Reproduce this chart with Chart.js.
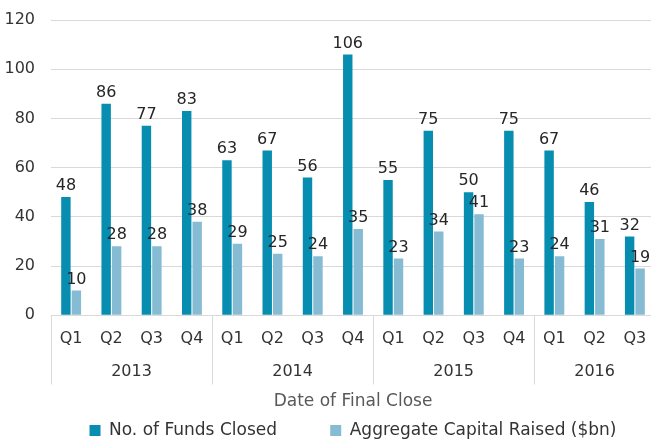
<!DOCTYPE html>
<html>
<head>
<meta charset="utf-8">
<script src="https://cdn.jsdelivr.net/npm/chart.js@4/dist/chart.umd.min.js"></script>
<style>
  html, body { margin: 0; padding: 0; background: #fff; overflow: hidden; }
  #wrap { width: 655px; height: 440px; }
</style>
</head>
<body>
<div id="wrap"><canvas id="chart"></canvas></div>
<script>
// data
const quarters = ['Q1','Q2','Q3','Q4','Q1','Q2','Q3','Q4','Q1','Q2','Q3','Q4','Q1','Q2','Q3'];
const years = ['2013', '2014', '2015', '2016'];
const quartersPerYear = [4, 4, 4, 3];
const fundsClosed = [48, 86, 77, 83, 63, 67, 56, 106, 55, 75, 50, 75, 67, 46, 32];
const capitalRaised = [10, 28, 28, 38, 29, 25, 24, 35, 23, 34, 41, 23, 24, 31, 19];
const yMax = 120;
const yStep = 20;

// where each year group starts, and its centre (in category units)
const yearStarts = [];
const yearCentres = [];
let acc = 0;
quartersPerYear.forEach(n => {
  yearStarts.push(acc);
  yearCentres.push(acc + (n - 1) / 2);
  acc += n;
});

const FONT = 'DejaVu Sans';
const gridCol = '#d9d9d9';
const textCol = '#333333';

// value labels above each bar
const barLabels = {
  id: 'barLabels',
  afterDatasetsDraw(chart) {
    const ctx = chart.ctx;
    ctx.save();
    ctx.font = '16px "' + FONT + '"';
    ctx.fillStyle = '#262626';
    ctx.textAlign = 'center';
    ctx.textBaseline = 'bottom';
    chart.data.datasets.forEach((ds, di) => {
      chart.getDatasetMeta(di).data.forEach((bar, i) => {
        ctx.fillText(ds.data[i], bar.x, bar.y - 3);
      });
    });
    ctx.restore();
  }
};

// vertical lines between the year groups, through both label rows
const yearSeparators = {
  id: 'yearSeparators',
  afterDraw(chart) {
    const xs = chart.scales.x;
    const x2 = chart.scales.x2;
    const half = (xs.getPixelForValue(1) - xs.getPixelForValue(0)) / 2;
    const bottom = x2.top + x2.options.ticks.padding + 22;
    const ctx = chart.ctx;
    ctx.save();
    ctx.strokeStyle = gridCol;
    ctx.lineWidth = 1;
    yearStarts.forEach(s => {
      const px = Math.round(xs.getPixelForValue(s) - half) + 0.5;
      ctx.beginPath();
      ctx.moveTo(px, xs.top);
      ctx.lineTo(px, bottom);
      ctx.stroke();
    });
    ctx.restore();
  }
};

// keep the label overhang from pushing the plot area in
const noSidePad = axis => { axis.paddingLeft = 0; axis.paddingRight = 0; };

// legend: wider gap after the first entry, as in the source chart
const legendLabels = chart => {
  const items = Chart.defaults.plugins.legend.labels.generateLabels(chart);
  items[0].text = items[0].text + '\u00a0'.repeat(8);
  return items;
};

new Chart(document.getElementById('chart'), {
  type: 'bar',
  data: {
    labels: quarters,
    datasets: [
      {
        label: 'No. of Funds Closed',
        data: fundsClosed,
        backgroundColor: '#068DB0',
        categoryPercentage: 0.52,
        barPercentage: 0.9
      },
      {
        label: 'Aggregate Capital Raised ($bn)',
        data: capitalRaised,
        backgroundColor: '#86BBD4',
        categoryPercentage: 0.52,
        barPercentage: 0.9
      }
    ]
  },
  options: {
    responsive: true,
    maintainAspectRatio: false,
    animation: false,
    layout: { padding: { top: 20, left: 4, right: 0, bottom: -9 } },
    plugins: {
      legend: {
        position: 'bottom',
        fullSize: false,
        labels: {
          boxWidth: 11,
          boxHeight: 11,
          padding: 10,
          color: textCol,
          font: { family: FONT, size: 17 },
          generateLabels: legendLabels
        }
      },
      tooltip: { enabled: false }
    },
    scales: {
      y: {
        min: 0,
        max: yMax,
        afterFit: axis => { axis.paddingTop = 0; axis.paddingBottom = 0; axis.width = 47; },
        ticks: { stepSize: yStep, color: textCol, padding: 16, font: { family: FONT, size: 16 } },
        grid: { color: gridCol, drawTicks: false },
        border: { display: false }
      },
      x: {
        weight: 0,
        afterFit: noSidePad,
        ticks: { color: textCol, padding: 14, maxRotation: 0, autoSkip: false, font: { family: FONT, size: 16 } },
        grid: { display: false, drawTicks: false },
        border: { color: gridCol }
      },
      x2: {
        type: 'linear',
        position: 'bottom',
        weight: 1,
        offset: false,
        min: -0.5,
        max: quarters.length - 0.5,
        afterBuildTicks: axis => { axis.ticks = yearCentres.map(v => ({ value: v })); },
        afterFit: noSidePad,
        ticks: {
          color: textCol,
          padding: 0,
          maxRotation: 0,
          autoSkip: false,
          font: { family: FONT, size: 16 },
          callback: (value, index) => years[index]
        },
        grid: { display: false, drawTicks: false },
        border: { display: false },
        title: {
          display: true,
          text: 'Date of Final Close',
          color: '#595959',
          font: { family: FONT, size: 17 },
          padding: { top: 10, bottom: 0 }
        }
      }
    }
  },
  plugins: [barLabels, yearSeparators]
});
</script>
</body>
</html>
